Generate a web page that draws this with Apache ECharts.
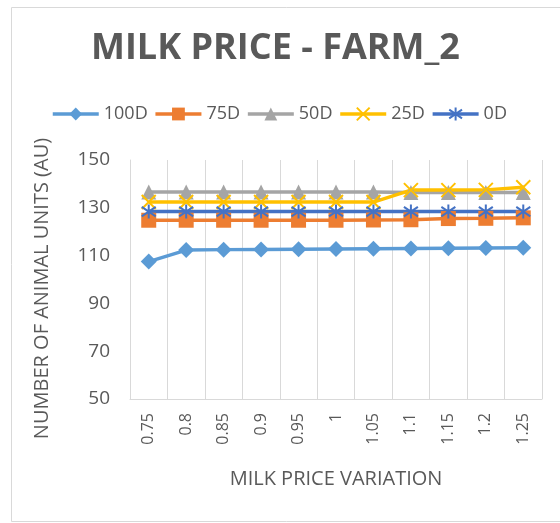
<!DOCTYPE html>
<html>
<head>
<meta charset="utf-8">
<script src="https://cdn.jsdelivr.net/npm/echarts@6/dist/echarts.min.js"></script>
<style>
  html, body { margin: 0; padding: 0; background: #fff; }
  #chart { width: 560px; height: 523px; }
</style>
</head>
<body>
<div id="chart"></div>
<script>
const categories = ['0.75', '0.8', '0.85', '0.9', '0.95', '1', '1.05', '1.1', '1.15', '1.2', '1.25'];
const d100 = [107.5, 112.3, 112.5, 112.6, 112.7, 112.8, 112.9, 113.0, 113.1, 113.2, 113.3];
const d75 = [124.8, 124.8, 124.8, 124.8, 124.8, 124.8, 124.9, 125.0, 125.5, 125.6, 125.8];
const d50 = [136.6, 136.6, 136.6, 136.6, 136.6, 136.6, 136.6, 136.4, 136.4, 136.4, 136.4];
const d25 = [132.4, 132.4, 132.4, 132.4, 132.4, 132.4, 132.4, 137.4, 137.4, 137.5, 138.6];
const d0 = [128.4, 128.4, 128.4, 128.4, 128.4, 128.4, 128.4, 128.4, 128.4, 128.4, 128.4];

const FONT = '"Open Sans", sans-serif';
const TEXT = '#595959';
const CROSS = 'path://M0,0L10,10M10,0L0,10';
const STAR = 'path://M5,0L5,10M0.6,1.6L9.4,8.4M9.4,1.6L0.6,8.4';

const chart = echarts.init(document.getElementById('chart'));

function line(name, data, color, symbol, size, stroke) {
  const s = {
    name: name,
    type: 'line',
    data: data,
    symbol: symbol,
    symbolSize: size,
    showSymbol: true,
    lineStyle: { color: color, width: 3.5 },
    itemStyle: { color: color },
  };
  if (stroke) {
    s.itemStyle = { color: 'none', borderColor: color, borderWidth: 2 };
  }
  return s;
}

const option = {
  animation: false,
  title: {
    text: 'MILK PRICE - FARM_2',
    left: 86,
    top: 26,
    textStyle: { fontFamily: FONT, fontSize: 36, fontWeight: 'bold', color: TEXT },
  },
  legend: {
    top: 100,
    left: 46,
    itemWidth: 46,
    itemHeight: 16,
    itemGap: 6,
    lineStyle: { width: 3.5 },
    textStyle: { fontFamily: FONT, fontSize: 18, color: TEXT },
    data: ['100D', '75D', '50D', '25D', '0D'],
  },
  graphic: [{
    type: 'rect',
    shape: { x: 11.5, y: 7.5, width: 560, height: 514 },
    style: { fill: 'none', stroke: '#d9d9d9', lineWidth: 1 },
    silent: true,
  }],
  grid: { left: 130, right: 18, top: 160, bottom: 124 },
  xAxis: {
    type: 'category',
    data: categories,
    boundaryGap: true,
    name: 'MILK PRICE VARIATION',
    nameLocation: 'middle',
    nameGap: 70,
    nameTextStyle: { fontFamily: FONT, fontSize: 20, color: TEXT },
    axisLine: { lineStyle: { color: '#d9d9d9' } },
    axisTick: { show: false },
    splitLine: { show: true, lineStyle: { color: '#d9d9d9' } },
    axisLabel: { rotate: 90, fontFamily: FONT, fontSize: 16, color: TEXT, margin: 14 },
  },
  yAxis: {
    type: 'value',
    min: 50,
    max: 150,
    interval: 20,
    name: 'NUMBER OF ANIMAL UNITS (AU)',
    nameLocation: 'middle',
    nameGap: 78,
    nameTextStyle: { fontFamily: FONT, fontSize: 20, color: TEXT, padding: [0, 18, 0, 0] },
    axisLine: { show: true, lineStyle: { color: '#d9d9d9' } },
    axisTick: { show: false },
    splitLine: { show: false },
    axisLabel: { fontFamily: FONT, fontSize: 19, color: TEXT, margin: 20 },
  },
  series: [
    line('100D', d100, '#5B9BD5', 'diamond', 16),
    line('75D', d75, '#ED7D31', 'rect', 15),
    line('50D', d50, '#A5A5A5', 'triangle', 15),
    line('25D', d25, '#FFC000', CROSS, 14, true),
    line('0D', d0, '#4472C4', STAR, 14, true),
  ],
};

chart.setOption(option);
</script>
</body>
</html>
